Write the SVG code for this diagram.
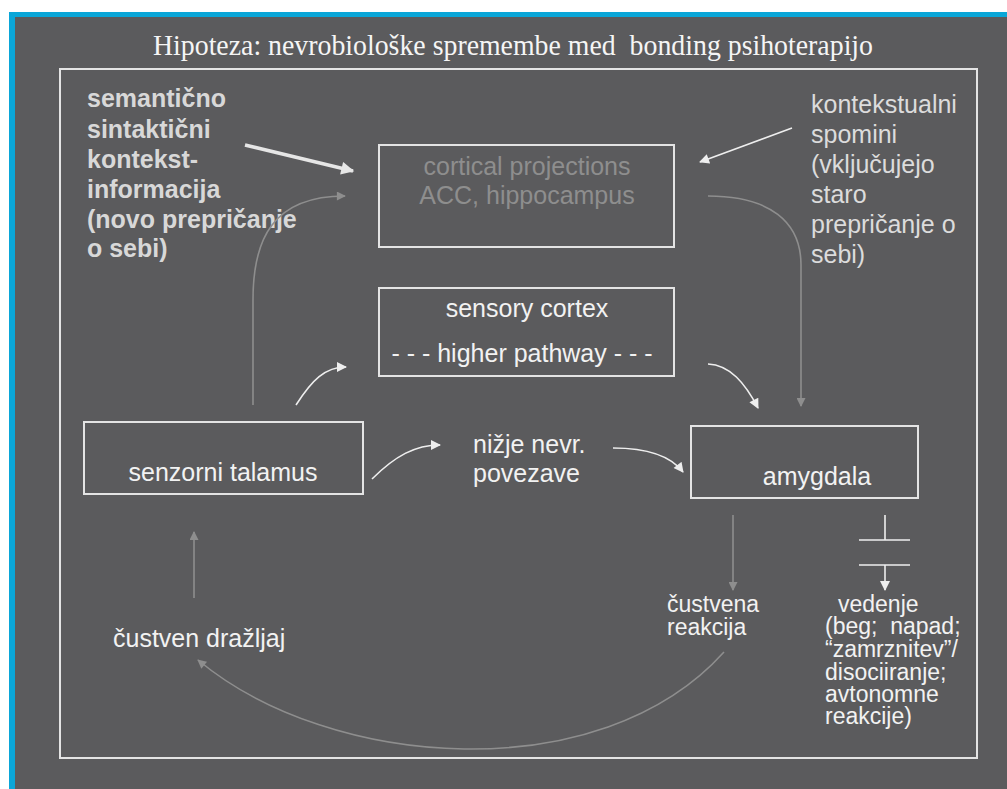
<svg xmlns="http://www.w3.org/2000/svg" width="1007" height="789" viewBox="0 0 1007 789">
<style>
.box{fill:none;stroke:#e4e4e4;stroke-width:2}
.t{font-family:"Liberation Sans",Arial,sans-serif;font-size:25px;fill:#f2f2f2}
.b{font-family:"Liberation Sans",Arial,sans-serif;font-size:25px;font-weight:bold;fill:#d8d8d8}
.lt{font-family:"Liberation Sans",Arial,sans-serif;font-size:25px;fill:#dcdcdc}
.gt{font-family:"Liberation Sans",Arial,sans-serif;font-size:25px;fill:#8e8e8e}
.s{font-family:"Liberation Sans",Arial,sans-serif;font-size:23px;fill:#f2f2f2;white-space:pre}
.w{fill:none;stroke:#eeeeee;stroke-width:1.6}
.g{fill:none;stroke:#8e8e8e;stroke-width:1.6}
</style>
<defs>
<marker id="aw" viewBox="0 0 10 10" refX="9" refY="5" markerWidth="11" markerHeight="10" markerUnits="userSpaceOnUse" orient="auto"><path d="M0,0 L10,5 L0,10 Z" fill="#eeeeee"/></marker>
<marker id="ag" viewBox="0 0 10 10" refX="9" refY="5" markerWidth="10" markerHeight="9" markerUnits="userSpaceOnUse" orient="auto"><path d="M0,0 L10,5 L0,10 Z" fill="#8e8e8e"/></marker>
<marker id="awb" viewBox="0 0 10 10" refX="9" refY="5" markerWidth="16" markerHeight="13" markerUnits="userSpaceOnUse" orient="auto"><path d="M0,0 L10,5 L0,10 Z" fill="#e6e6e6"/></marker>
</defs>
<rect x="0" y="0" width="1007" height="789" fill="#ffffff"/>
<rect x="9" y="12" width="998" height="777" fill="#0aa6d8"/>
<rect x="15" y="17" width="992" height="772" fill="#5b5b5d"/>
<text x="513" y="55" text-anchor="middle" font-family="'Liberation Serif','Times New Roman',serif" font-size="29" fill="#f5f5f5" style="white-space:pre" textLength="720" lengthAdjust="spacingAndGlyphs">Hipoteza: nevrobiološke spremembe med  bonding psihoterapijo</text>
<rect x="60" y="69" width="917" height="689" class="box"/>

<g id="cortical">
<rect x="379" y="145" width="295" height="102" class="box"/>
<text x="527" y="175" text-anchor="middle" class="gt">cortical projections</text>
<text x="527" y="204" text-anchor="middle" class="gt">ACC, hippocampus</text>
</g>
<g id="sensory">
<rect x="379" y="288" width="295" height="88" class="box"/>
<text x="527" y="317" text-anchor="middle" class="t">sensory cortex</text>
<text x="522" y="362" text-anchor="middle" class="t">- - - higher pathway - - -</text>
</g>
<g id="talamus">
<rect x="84" y="422" width="279" height="72" class="box"/>
<text x="223" y="481" text-anchor="middle" class="t">senzorni talamus</text>
</g>
<g id="amygdala">
<rect x="691" y="426" width="227" height="72" class="box"/>
<text x="817" y="485" text-anchor="middle" class="t">amygdala</text>
</g>
<g id="semanticno">
<text class="b"><tspan x="87" y="107">semantično</tspan><tspan x="87" y="138">sintaktični</tspan><tspan x="87" y="168">kontekst-</tspan><tspan x="87" y="198">informacija</tspan><tspan x="87" y="228">(novo prepričanje</tspan><tspan x="87" y="257">o sebi)</tspan></text>
</g>
<g id="kontekstualni">
<text class="lt"><tspan x="811" y="113">kontekstualni</tspan><tspan x="811" y="143">spomini</tspan><tspan x="811" y="173">(vključujejo</tspan><tspan x="811" y="203">staro</tspan><tspan x="811" y="233">prepričanje o</tspan><tspan x="811" y="263">sebi)</tspan></text>
</g>
<g id="nizje">
<text class="t"><tspan x="473" y="453">nižje nevr.</tspan><tspan x="473" y="482">povezave</tspan></text>
</g>
<g id="custven-drazljaj">
<text x="113" y="647" class="t">čustven dražljaj</text>
</g>
<g id="custvena-reakcija">
<text class="s"><tspan x="667" y="612">čustvena</tspan><tspan x="667" y="635">reakcija</tspan></text>
</g>
<g id="vedenje">
<text class="s"><tspan x="838" y="612">vedenje</tspan><tspan x="825" y="634">(beg;  napad;</tspan><tspan x="825" y="657">“zamrznitev”/</tspan><tspan x="825" y="680">disociiranje;</tspan><tspan x="825" y="702">avtonomne</tspan><tspan x="825" y="724">reakcije)</tspan></text>
</g>

<g id="connectors">
<path d="M245,145 L353,171" fill="none" stroke="#e6e6e6" stroke-width="3.5" marker-end="url(#awb)"/>
<path d="M792,128 L700,162" class="w" marker-end="url(#aw)"/>
<path d="M253,405 V300 C253,240 272,196 345,196" class="g" marker-end="url(#ag)"/>
<path d="M708,196 C770,196 801,222 801,265 V406" class="g" marker-end="url(#ag)"/>
<path d="M296,405 C312,380 325,367 346,367" class="w" marker-end="url(#aw)"/>
<path d="M708,364 C730,365 745,383 758,408" class="w" marker-end="url(#aw)"/>
<path d="M372,479 C395,456 415,445 440,445" class="w" marker-end="url(#aw)"/>
<path d="M613,448 C645,448 670,455 683,472" class="w" marker-end="url(#aw)"/>
<path d="M733,515 V590" class="g" marker-end="url(#ag)"/>
<path d="M885,515 V540 M859,540 H910 M859,565 H910" class="w"/>
<path d="M885,565 V590" class="w" marker-end="url(#aw)"/>
<path d="M194,598 V532" class="g" marker-end="url(#ag)"/>
<path d="M724,652 C600,790 330,770 198,660" class="g" marker-end="url(#ag)"/>
</g>
</svg>
